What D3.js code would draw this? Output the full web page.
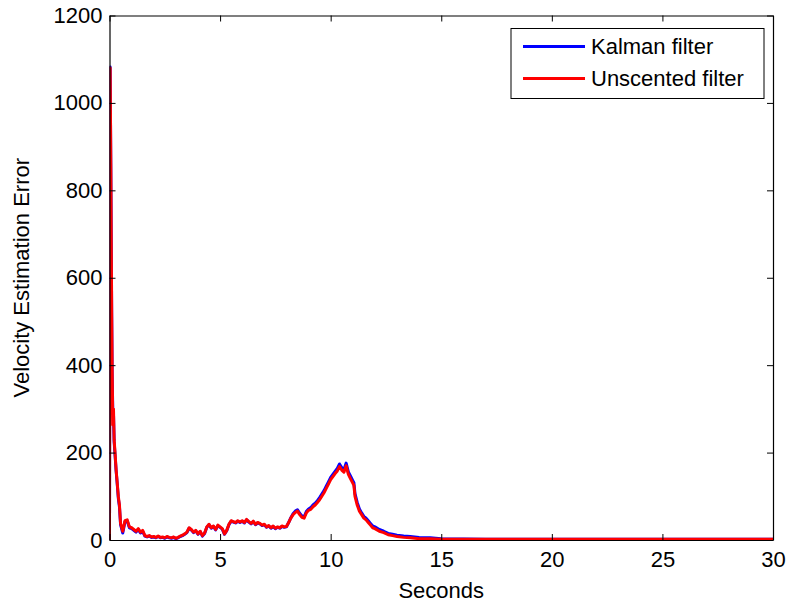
<!DOCTYPE html>
<html>
<head>
<meta charset="utf-8">
<script src="https://cdn.jsdelivr.net/npm/d3@7"></script>
<style>
  body { margin: 0; background: #fff; }
  text { font-family: Arial, "Liberation Sans", sans-serif; fill: #000; }
</style>
</head>
<body>
<div class="lineplot"></div>
<script>
// data
var seconds = [0, 0.03, 0.06, 0.08, 0.1, 0.12, 0.15, 0.18, 0.21, 0.25, 0.3, 0.35, 0.4, 0.45,
  0.5, 0.6, 0.7, 0.8, 0.9, 1.0, 1.1, 1.2, 1.3, 1.4, 1.5, 1.6, 1.7, 1.8, 1.9,
  2.0, 2.1, 2.2, 2.3, 2.4, 2.5, 2.6, 2.7, 2.8, 2.9, 3.0, 3.1, 3.2, 3.3, 3.4, 3.5, 3.6, 3.7, 3.8, 3.9,
  4.0, 4.1, 4.2, 4.3, 4.4, 4.5, 4.6, 4.7, 4.8, 4.9, 5.0, 5.1, 5.2, 5.3, 5.4, 5.5, 5.6, 5.7, 5.8, 5.9,
  6.0, 6.1, 6.2, 6.3, 6.4, 6.5, 6.6, 6.7, 6.8, 6.9, 7.0, 7.1, 7.2, 7.3, 7.4, 7.5, 7.6, 7.7, 7.8, 7.9,
  8.0, 8.1, 8.2, 8.3, 8.4, 8.5, 8.6, 8.7, 8.8, 8.9, 9.0, 9.1, 9.2, 9.3, 9.4, 9.5, 9.6, 9.7, 9.8, 9.9,
  10.0, 10.1, 10.2, 10.3, 10.4, 10.5, 10.6, 10.7, 10.8, 10.9, 11.0, 11.05, 11.1, 11.2, 11.3, 11.4, 11.5, 11.6, 11.7, 11.8, 11.9,
  12.0, 12.2, 12.4, 12.6, 12.8, 13.0, 13.3, 13.6, 14.0, 14.5, 15, 17, 20, 25, 30];

var kalman = [0, 1082, 850, 670, 510, 380, 293, 290, 225, 195, 158, 128, 95, 76,
  35, 16, 42, 44, 28, 26, 22, 18, 24, 16, 20, 9, 7, 9, 6,
  7, 5, 8, 5, 6, 4, 7, 5, 4, 6, 3, 5, 8, 10, 13, 17, 27, 23, 17, 21,
  13, 19, 9, 15, 29, 35, 27, 31, 23, 33, 29, 25, 13, 21, 35, 43, 41, 39, 43, 40,
  43, 39, 46, 41, 37, 42, 35, 39, 37, 33, 35, 29, 32, 27, 31, 26, 29, 27, 31, 29,
  30, 40, 51, 60, 66, 69, 61, 55, 53, 65, 71, 74, 80, 84, 90, 97, 105, 113, 123, 133,
  143, 150, 157, 164, 174, 166, 161, 176, 156, 146, 136, 131, 106, 86, 71, 62, 54, 50, 44, 38, 32,
  30, 24, 20, 15, 13, 11, 9, 8, 6, 5, 3, 2, 1.5, 1.5, 1.5];

var unscented = [0, 1080, 860, 682, 520, 393, 263, 300, 229, 200, 160, 130, 99, 80,
  38, 20, 44, 46, 30, 28, 24, 20, 26, 18, 22, 10, 8, 10, 7,
  8, 6, 9, 6, 7, 5, 8, 6, 5, 7, 4, 6, 9, 11, 14, 18, 28, 24, 18, 22,
  14, 20, 10, 16, 30, 36, 28, 32, 24, 34, 30, 26, 14, 22, 36, 44, 42, 40, 44, 41,
  44, 40, 47, 42, 38, 43, 36, 40, 38, 34, 36, 30, 33, 28, 32, 27, 30, 28, 32, 30,
  31, 40, 50, 58, 63, 66, 58, 52, 50, 62, 68, 70, 76, 80, 86, 92, 100, 108, 118, 128,
  138, 145, 152, 158, 168, 160, 155, 170, 150, 140, 130, 125, 100, 80, 66, 58, 50, 46, 40, 34, 28,
  26, 20, 17, 12, 10, 8, 6, 5, 3, 3, 2, 2, 1.5, 1.5, 1.5];

var xTicks = [0, 5, 10, 15, 20, 25, 30];
var yTicks = [0, 200, 400, 600, 800, 1000, 1200];

var seriesNames = ["Kalman filter", "Unscented filter"];
var seriesColors = ["#0000ff", "#ff0000"];

var W = 791, H = 607;
var margin = {top: 15.5, right: 18, bottom: 67, left: 109.5};
var width = W - margin.left - margin.right;
var height = H - margin.top - margin.bottom;

var svg = d3.select(".lineplot").append("svg")
    .attr("width", W)
    .attr("height", H)
  .append("g")
    .attr("transform", "translate(" + margin.left + "," + margin.top + ")");

var x = d3.scaleLinear().domain([0, 30]).range([0, width]);
var y = d3.scaleLinear().domain([0, 1200]).range([height, 0]);

var rows = seconds.map((t, i) => ({t: t, k: kalman[i], u: unscented[i]}));

svg.append("defs").append("clipPath").attr("id", "clip")
  .append("rect").attr("width", width).attr("height", height);

var plot = svg.append("g").attr("clip-path", "url(#clip)");

var drawK = d3.line().x(d => x(d.t)).y(d => y(d.k));
var drawU = d3.line().x(d => x(d.t)).y(d => y(d.u));

plot.append("path")
  .attr("d", drawK(rows))
  .attr("stroke", seriesColors[0])
  .attr("stroke-width", 3)
  .attr("stroke-linejoin", "round")
  .style("fill", "none");

plot.append("path")
  .attr("d", drawU(rows))
  .attr("stroke", seriesColors[1])
  .attr("stroke-width", 3)
  .attr("stroke-linejoin", "round")
  .style("fill", "none");

// axes, box style with inward ticks
var tickLen = 6;
var fs = "22px";

svg.append("g")
  .attr("transform", `translate(0,${height})`)
  .call(d3.axisBottom(x).tickValues(xTicks).tickSizeInner(-tickLen).tickSizeOuter(0).tickPadding(11))
  .call(g => g.selectAll("text").style("font-size", fs).attr("font-family", null));

svg.append("g")
  .call(d3.axisTop(x).tickValues(xTicks).tickSizeInner(-tickLen).tickSizeOuter(0).tickFormat(""));

svg.append("g")
  .call(d3.axisLeft(y).tickValues(yTicks).tickFormat(d3.format("d")).tickSizeInner(-tickLen).tickSizeOuter(0).tickPadding(7))
  .call(g => g.selectAll("text").style("font-size", fs).attr("font-family", null));

svg.append("g")
  .attr("transform", `translate(${width},0)`)
  .call(d3.axisRight(y).tickValues(yTicks).tickSizeInner(-tickLen).tickSizeOuter(0).tickFormat(""));

svg.selectAll(".domain").attr("stroke", "#000").attr("stroke-width", 1.2);
svg.selectAll(".tick line").attr("stroke", "#000");

svg.append("text")
  .attr("x", width / 2)
  .attr("y", height + 58)
  .attr("text-anchor", "middle")
  .style("font-size", fs)
  .text("Seconds");

svg.append("text")
  .attr("transform", `translate(${-81},${height / 2}) rotate(-90)`)
  .attr("text-anchor", "middle")
  .style("font-size", fs)
  .text("Velocity Estimation Error");

// legend
var legend = svg.append("g")
  .attr("transform", `translate(${511 - margin.left},${28.5 - margin.top})`);

legend.append("rect")
  .attr("width", 253)
  .attr("height", 70)
  .attr("fill", "#fff")
  .attr("stroke", "#000")
  .attr("stroke-width", 1);

seriesNames.forEach((name, i) => {
  legend.append("line")
    .attr("x1", 12).attr("x2", 74)
    .attr("y1", 18 + i * 32).attr("y2", 18 + i * 32)
    .attr("stroke", seriesColors[i])
    .attr("stroke-width", 3);
  legend.append("text")
    .attr("x", 80)
    .attr("y", 18 + i * 32)
    .attr("dy", "0.35em")
    .style("font-size", fs)
    .text(name);
});
</script>
</body>
</html>
